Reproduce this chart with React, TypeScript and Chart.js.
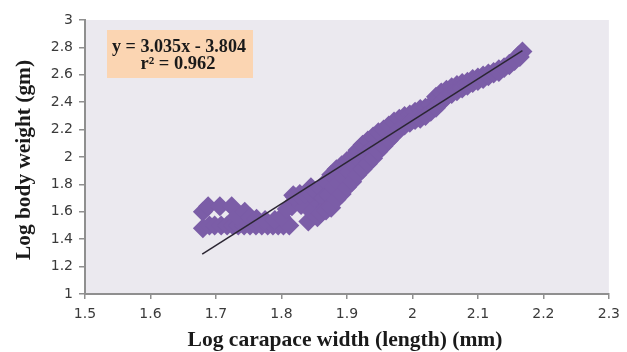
import React, { useEffect, useRef } from "react";
import { Chart, registerables } from "chart.js";

Chart.register(...registerables);

// Left cluster (small crabs)
const clusterX = [
  1.680, 1.680, 1.688, 1.706, 1.724,
  1.690, 1.698, 1.708, 1.717, 1.726, 1.734, 1.743, 1.752, 1.761, 1.770, 1.779, 1.787, 1.795, 1.803, 1.812,
  1.732, 1.744, 1.752, 1.762, 1.775, 1.790, 1.800,
  1.816, 1.818, 1.828, 1.836, 1.840, 1.841, 1.848, 1.852, 1.856,
  1.808, 1.830, 1.846, 1.855, 1.850, 1.845,
];
const clusterY = [
  1.60, 1.48, 1.64, 1.64, 1.64,
  1.50, 1.50, 1.50, 1.50, 1.50, 1.50, 1.50, 1.50, 1.50, 1.50, 1.50, 1.50, 1.50, 1.50, 1.50,
  1.57, 1.60, 1.56, 1.55, 1.54, 1.54, 1.56,
  1.64, 1.72, 1.73, 1.68, 1.74, 1.53, 1.66, 1.60, 1.75,
  1.62, 1.65, 1.60, 1.56, 1.70, 1.78,
];

// Heavier individuals along the upper side of the band
const upperX = [
  1.820, 1.828, 1.836, 1.844, 1.852, 1.860, 1.868, 1.876, 1.884, 1.892, 1.900, 1.908, 1.916, 1.924,
  1.932, 1.940, 1.948, 1.956, 1.964, 1.972, 1.980, 1.988, 1.996, 2.004, 2.012, 2.020, 2.028, 2.036,
  2.044, 2.052, 2.060, 2.068, 2.076, 2.084, 2.092, 2.100, 2.108, 2.116, 2.124, 2.132, 2.140, 2.148,
  2.156, 2.162, 2.168,
];
const upperY = [
  1.71, 1.72, 1.73, 1.735, 1.75, 1.77, 1.82, 1.87, 1.91, 1.94, 1.97, 2.00, 2.05, 2.09,
  2.12, 2.15, 2.18, 2.20, 2.23, 2.26, 2.28, 2.30, 2.31, 2.33, 2.35, 2.36, 2.38, 2.44,
  2.47, 2.49, 2.51, 2.525, 2.54, 2.55, 2.57, 2.58, 2.595, 2.61, 2.62, 2.64, 2.655, 2.67,
  2.70, 2.74, 2.77,
];

// Middle of the band where it is widest
const middleX = [1.864, 1.872, 1.880, 1.888, 1.896, 1.904, 1.912, 1.920, 1.928, 1.936];
const middleY = [1.70, 1.72, 1.78, 1.81, 1.85, 1.89, 1.93, 1.97, 2.02, 2.05];

// Lighter individuals along the lower side of the band
const lowerX = [
  1.860, 1.868, 1.876, 1.884, 1.892, 1.900, 1.908, 1.916, 1.924, 1.932, 1.940, 1.948, 1.956,
  1.964, 1.972, 1.980, 1.988, 1.996, 2.004, 2.012, 2.020, 2.028, 2.036, 2.044, 2.052, 2.060,
  2.068, 2.076, 2.084, 2.092, 2.100, 2.108, 2.116, 2.124, 2.132, 2.140, 2.148, 2.156, 2.164,
];
const lowerY = [
  1.59, 1.61, 1.63, 1.69, 1.73, 1.78, 1.82, 1.87, 1.91, 1.95, 1.99, 2.04, 2.08,
  2.12, 2.16, 2.20, 2.23, 2.25, 2.27, 2.28, 2.30, 2.33, 2.36, 2.40, 2.44, 2.46,
  2.48, 2.50, 2.52, 2.54, 2.555, 2.57, 2.59, 2.61, 2.62, 2.65, 2.68, 2.71, 2.73,
];

// Fitted regression line end points
const trendX = [1.679, 2.168];
const trendY = [1.291, 2.776];

const xTicks = [1.5, 1.6, 1.7, 1.8, 1.9, 2, 2.1, 2.2, 2.3];
const yTicks = [1, 1.2, 1.4, 1.6, 1.8, 2, 2.2, 2.4, 2.6, 2.8, 3];

const equationText = "y = 3.035x - 3.804";
const rSquaredText = "r\u00B2 = 0.962";
const xTitle = "Log carapace width (length) (mm)";
const yTitle = "Log body weight (gm)";

function fitText(ctx: CanvasRenderingContext2D, text: string, cx: number, y: number, width: number) {
  const w = ctx.measureText(text).width;
  ctx.save();
  ctx.translate(cx, y);
  ctx.scale(width / w, 1);
  ctx.textAlign = "center";
  ctx.fillText(text, 0, 0);
  ctx.restore();
}

export default function App() {
  const canvasRef = useRef<HTMLCanvasElement>(null);

  useEffect(() => {
    const canvas = canvasRef.current;
    if (!canvas) return;

    const deco = {
      id: "deco",
      beforeDraw(chart: any) {
        const { ctx, chartArea: a } = chart;
        ctx.save();
        ctx.fillStyle = "#ebe9ef";
        ctx.fillRect(a.left, a.top, a.right - a.left, a.bottom - a.top);
        ctx.restore();
      },
      afterDraw(chart: any) {
        const ctx = chart.ctx as CanvasRenderingContext2D;
        ctx.save();
        // equation box
        ctx.fillStyle = "#fbd5b2";
        ctx.fillRect(107, 30, 146, 48);
        ctx.fillStyle = "#1a1a1a";
        ctx.textBaseline = "alphabetic";
        ctx.font = "bold 18px 'Liberation Serif'";
        fitText(ctx, equationText, 179, 52, 134);
        fitText(ctx, rSquaredText, 178, 69, 75);
        // axis titles
        ctx.font = "bold 22px 'Liberation Serif'";
        fitText(ctx, xTitle, 345, 346, 315);
        ctx.translate(30, 160);
        ctx.rotate(-Math.PI / 2);
        fitText(ctx, yTitle, 0, 0, 200);
        ctx.restore();
      },
    };

    const axisColor = "#8f8f8f";
    const tickFont = { family: "'DejaVu Sans'", size: 14 };
    const markColor = "#7b5da7";

    const allX = [...clusterX, ...upperX, ...middleX, ...lowerX];
    const allY = [...clusterY, ...upperY, ...middleY, ...lowerY];

    const chart = new Chart(canvas, {
      type: "scatter",
      data: {
        datasets: [
          {
            data: trendX.map((x, i) => ({ x, y: trendY[i] })),
            showLine: true,
            borderColor: "#2b2633",
            borderWidth: 1.5,
            pointRadius: 0,
            order: 0,
          },
          {
            data: allX.map((x, i) => ({ x, y: allY[i] })),
            pointStyle: "rectRot",
            pointRadius: 10,
            pointBackgroundColor: markColor,
            pointBorderColor: markColor,
            pointBorderWidth: 0,
            backgroundColor: markColor,
            borderColor: markColor,
            order: 1,
          },
        ],
      },
      options: {
        animation: false,
        responsive: false,
        maintainAspectRatio: false,
        layout: { padding: { left: 0, top: 20, right: 17, bottom: 0 } },
        plugins: {
          legend: { display: false },
          tooltip: { enabled: false },
        },
        scales: {
          x: {
            type: "linear",
            min: 1.5,
            max: 2.3,
            afterBuildTicks: (s: any) => {
              s.ticks = xTicks.map((v) => ({ value: v }));
            },
            afterFit: (s: any) => {
              s.height = 58;
            },
            grid: { drawOnChartArea: false, drawTicks: true, tickLength: 5, color: axisColor, lineWidth: 1.5 },
            border: { display: true, color: axisColor, width: 2 },
            ticks: {
              font: tickFont,
              color: "#3a3a3a",
              padding: 7,
              maxRotation: 0,
              autoSkip: false,
              callback: (v: any) => String(v),
            },
          },
          y: {
            type: "linear",
            min: 1,
            max: 3,
            afterBuildTicks: (s: any) => {
              s.ticks = yTicks.map((v) => ({ value: v }));
            },
            afterFit: (s: any) => {
              s.width = 85;
            },
            grid: { drawOnChartArea: false, drawTicks: true, tickLength: 6, color: axisColor, lineWidth: 1.5 },
            border: { display: true, color: axisColor, width: 2 },
            ticks: {
              font: tickFont,
              color: "#3a3a3a",
              padding: 6,
              autoSkip: false,
              callback: (v: any) => String(v),
            },
          },
        },
      },
      plugins: [deco],
    } as any);

    return () => chart.destroy();
  }, []);

  return (
    <div style={{ position: "fixed", left: 0, top: 0, width: 627, height: 352, background: "#fff" }}>
      <canvas ref={canvasRef} width={627} height={352} style={{ display: "block" }} />
    </div>
  );
}
